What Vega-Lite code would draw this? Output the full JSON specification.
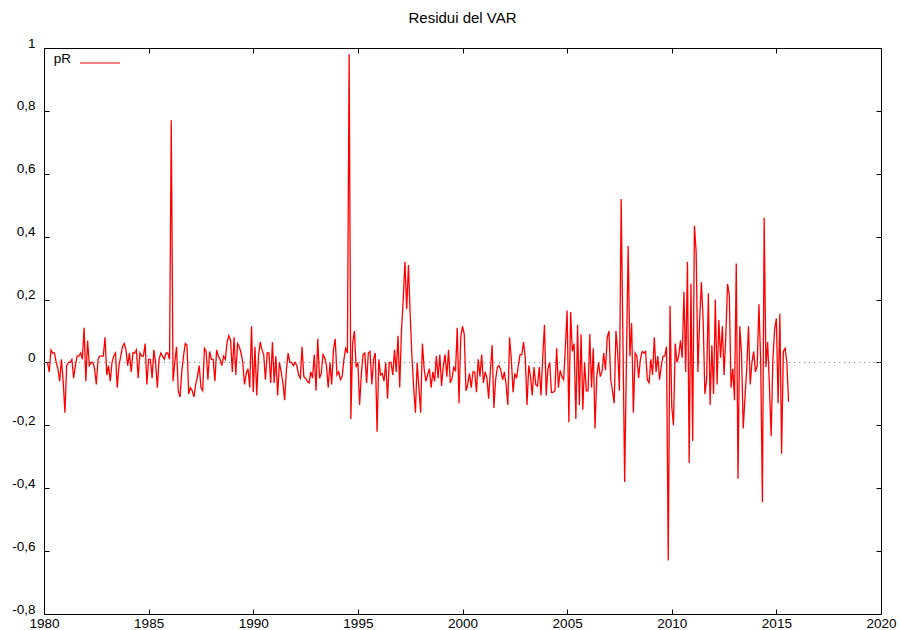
{
"$schema": "https://vega.github.io/schema/vega-lite/v6.json",
"width": 837, "height": 566,
"autosize": {"type": "none"},
"padding": {"left": 44, "top": 48, "right": 19, "bottom": 16},
"background": "white",
"title": {"text": "Residui del VAR", "font": "Liberation Sans", "fontSize": 15, "fontWeight": "normal", "color": "black", "offset": 10},
"config": {
  "view": {"stroke": "black", "strokeWidth": 1},
  "font": "Liberation Sans",
  "axis": {"grid": false, "domain": false, "tickColor": "black", "tickSize": -5, "labelColor": "black", "labelFont": "Liberation Sans", "labelFontSize": 13.5, "title": null}
},
"layer": [
  {
    "data": {"values": [{"a": 1980, "b": 2020, "z": 0}]},
    "mark": {"type": "rule", "stroke": "#888888", "strokeWidth": 1, "strokeDash": [1.2, 3.8]},
    "encoding": {
      "x": {"field": "a", "type": "quantitative", "scale": {"domain": [1980, 2020], "nice": false, "zero": false},
            "axis": {"orient": "top", "labels": false, "values": [1980,1985,1990,1995,2000,2005,2010,2015,2020]}},
      "x2": {"field": "b"},
      "y": {"field": "z", "type": "quantitative", "scale": {"domain": [-0.8, 1], "nice": false, "zero": false},
            "axis": {"orient": "left", "values": [-0.8,-0.6,-0.4,-0.2,0,0.2,0.4,0.6,0.8,1], "labelPadding": 14, "labelOffset": -5,
                     "labelExpr": "(datum.value < 0 ? '-' : '') + replace(format(abs(datum.value), '~g'), '.', ',')"}}
    }
  },
  {
    "data": {"values": [
{"t":1980.167,"v":0},{"t":1980.25,"v":-0.03},{"t":1980.333,"v":0.04},{"t":1980.417,"v":0.03},{"t":1980.5,"v":0.03},{"t":1980.583,"v":0},{"t":1980.667,"v":-0.02},{"t":1980.75,"v":-0.06},{"t":1980.833,"v":0.01},{"t":1980.917,"v":-0.06},
{"t":1981,"v":-0.16},{"t":1981.083,"v":-0.01},{"t":1981.167,"v":0},{"t":1981.25,"v":0},{"t":1981.333,"v":0.01},{"t":1981.417,"v":-0.05},{"t":1981.5,"v":-0.01},{"t":1981.583,"v":0.02},{"t":1981.667,"v":0.02},{"t":1981.75,"v":0.03},{"t":1981.833,"v":0.01},{"t":1981.917,"v":0.11},
{"t":1982,"v":-0.06},{"t":1982.083,"v":0.07},{"t":1982.167,"v":-0.01},{"t":1982.25,"v":0},{"t":1982.333,"v":0},{"t":1982.417,"v":-0.02},{"t":1982.5,"v":-0.07},{"t":1982.583,"v":0.01},{"t":1982.667,"v":0.02},{"t":1982.75,"v":0.02},{"t":1982.833,"v":0.02},{"t":1982.917,"v":0.08},
{"t":1983,"v":-0.04},{"t":1983.083,"v":-0.01},{"t":1983.167,"v":-0.06},{"t":1983.25,"v":0},{"t":1983.333,"v":0.02},{"t":1983.417,"v":0.03},{"t":1983.5,"v":-0.08},{"t":1983.583,"v":-0.01},{"t":1983.667,"v":0.02},{"t":1983.75,"v":0.05},{"t":1983.833,"v":0.06},{"t":1983.917,"v":0.04},
{"t":1984,"v":-0.01},{"t":1984.083,"v":0.03},{"t":1984.167,"v":-0.03},{"t":1984.25,"v":0.03},{"t":1984.333,"v":0.03},{"t":1984.417,"v":0.04},{"t":1984.5,"v":-0.05},{"t":1984.583,"v":0.03},{"t":1984.667,"v":0.02},{"t":1984.75,"v":0.02},{"t":1984.833,"v":0.06},{"t":1984.917,"v":-0.07},
{"t":1985,"v":0.01},{"t":1985.083,"v":0.01},{"t":1985.167,"v":-0.05},{"t":1985.25,"v":0.04},{"t":1985.333,"v":0},{"t":1985.417,"v":-0.08},{"t":1985.5,"v":0.01},{"t":1985.583,"v":0.03},{"t":1985.667,"v":0.02},{"t":1985.75,"v":0.01},{"t":1985.833,"v":0.03},{"t":1985.917,"v":0.03},
{"t":1986,"v":0.01},{"t":1986.083,"v":0.77},{"t":1986.167,"v":-0.06},{"t":1986.25,"v":0},{"t":1986.333,"v":0.05},{"t":1986.417,"v":-0.09},{"t":1986.5,"v":-0.11},{"t":1986.583,"v":-0.03},{"t":1986.667,"v":0.02},{"t":1986.75,"v":0.06},{"t":1986.833,"v":0.055},{"t":1986.917,"v":-0.1},
{"t":1987,"v":-0.08},{"t":1987.083,"v":-0.09},{"t":1987.167,"v":-0.11},{"t":1987.25,"v":-0.07},{"t":1987.333,"v":-0.045},{"t":1987.417,"v":-0.01},{"t":1987.5,"v":-0.08},{"t":1987.583,"v":-0.09},{"t":1987.667,"v":0.045},{"t":1987.75,"v":0.035},{"t":1987.833,"v":-0.055},{"t":1987.917,"v":0.035},
{"t":1988,"v":0.01},{"t":1988.083,"v":0.01},{"t":1988.167,"v":-0.06},{"t":1988.25,"v":0.04},{"t":1988.333,"v":0.02},{"t":1988.417,"v":0.01},{"t":1988.5,"v":-0.01},{"t":1988.583,"v":0.02},{"t":1988.667,"v":0.01},{"t":1988.75,"v":0.065},{"t":1988.833,"v":0.085},{"t":1988.917,"v":0.07},
{"t":1989,"v":-0.03},{"t":1989.083,"v":0.08},{"t":1989.167,"v":-0.04},{"t":1989.25,"v":0.06},{"t":1989.333,"v":0.05},{"t":1989.417,"v":0.03},{"t":1989.5,"v":0},{"t":1989.583,"v":-0.07},{"t":1989.667,"v":-0.035},{"t":1989.75,"v":-0.02},{"t":1989.833,"v":-0.08},{"t":1989.917,"v":0.115},
{"t":1990,"v":-0.095},{"t":1990.083,"v":0.05},{"t":1990.167,"v":-0.105},{"t":1990.25,"v":0.02},{"t":1990.333,"v":0.065},{"t":1990.417,"v":0.04},{"t":1990.5,"v":0.025},{"t":1990.583,"v":-0.055},{"t":1990.667,"v":0.03},{"t":1990.75,"v":0.03},{"t":1990.833,"v":-0.065},{"t":1990.917,"v":0.065},
{"t":1991,"v":-0.065},{"t":1991.083,"v":0.02},{"t":1991.167,"v":-0.105},{"t":1991.25,"v":0},{"t":1991.333,"v":-0.03},{"t":1991.417,"v":-0.065},{"t":1991.5,"v":-0.12},{"t":1991.583,"v":-0.025},{"t":1991.667,"v":0.03},{"t":1991.75,"v":0},{"t":1991.833,"v":0},{"t":1991.917,"v":-0.01},
{"t":1992,"v":0},{"t":1992.083,"v":-0.01},{"t":1992.167,"v":-0.04},{"t":1992.25,"v":-0.05},{"t":1992.333,"v":0.05},{"t":1992.417,"v":-0.045},{"t":1992.5,"v":-0.05},{"t":1992.583,"v":-0.06},{"t":1992.667,"v":-0.065},{"t":1992.75,"v":-0.03},{"t":1992.833,"v":-0.05},{"t":1992.917,"v":0.025},
{"t":1993,"v":-0.09},{"t":1993.083,"v":0.075},{"t":1993.167,"v":-0.05},{"t":1993.25,"v":-0.035},{"t":1993.333,"v":0.025},{"t":1993.417,"v":0.015},{"t":1993.5,"v":-0.01},{"t":1993.583,"v":-0.08},{"t":1993.667,"v":0},{"t":1993.75,"v":-0.07},{"t":1993.833,"v":0.04},{"t":1993.917,"v":0.075},
{"t":1994,"v":-0.04},{"t":1994.083,"v":-0.03},{"t":1994.167,"v":-0.055},{"t":1994.25,"v":-0.045},{"t":1994.333,"v":0.01},{"t":1994.417,"v":0.045},{"t":1994.5,"v":0.03},{"t":1994.583,"v":0.98},{"t":1994.667,"v":-0.18},{"t":1994.75,"v":0.06},{"t":1994.833,"v":0.1},{"t":1994.917,"v":-0.015},
{"t":1995,"v":0},{"t":1995.083,"v":-0.135},{"t":1995.167,"v":-0.035},{"t":1995.25,"v":0.025},{"t":1995.333,"v":0.03},{"t":1995.417,"v":-0.065},{"t":1995.5,"v":0.03},{"t":1995.583,"v":0.035},{"t":1995.667,"v":-0.07},{"t":1995.75,"v":0.01},{"t":1995.833,"v":0.03},{"t":1995.917,"v":-0.22},
{"t":1996,"v":0.01},{"t":1996.083,"v":-0.04},{"t":1996.167,"v":-0.035},{"t":1996.25,"v":-0.06},{"t":1996.333,"v":0},{"t":1996.417,"v":-0.115},{"t":1996.5,"v":0},{"t":1996.583,"v":0},{"t":1996.667,"v":-0.04},{"t":1996.75,"v":0.04},{"t":1996.833,"v":-0.03},{"t":1996.917,"v":0.085},
{"t":1997,"v":-0.08},{"t":1997.083,"v":0.1},{"t":1997.167,"v":0.2},{"t":1997.25,"v":0.32},{"t":1997.333,"v":0.17},{"t":1997.417,"v":0.31},{"t":1997.5,"v":0.15},{"t":1997.583,"v":0.02},{"t":1997.667,"v":-0.08},{"t":1997.75,"v":-0.16},{"t":1997.833,"v":0},{"t":1997.917,"v":-0.08},
{"t":1998,"v":-0.16},{"t":1998.083,"v":0.06},{"t":1998.167,"v":-0.02},{"t":1998.25,"v":-0.06},{"t":1998.333,"v":-0.04},{"t":1998.417,"v":-0.02},{"t":1998.5,"v":-0.08},{"t":1998.583,"v":-0.03},{"t":1998.667,"v":-0.06},{"t":1998.75,"v":0.02},{"t":1998.833,"v":-0.05},{"t":1998.917,"v":0.025},
{"t":1999,"v":-0.075},{"t":1999.083,"v":-0.01},{"t":1999.167,"v":0.025},{"t":1999.25,"v":-0.045},{"t":1999.333,"v":0.04},{"t":1999.417,"v":-0.065},{"t":1999.5,"v":-0.05},{"t":1999.583,"v":-0.015},{"t":1999.667,"v":-0.025},{"t":1999.75,"v":0.11},{"t":1999.833,"v":-0.13},{"t":1999.917,"v":0.08},
{"t":2000,"v":0.115},{"t":2000.083,"v":0.09},{"t":2000.167,"v":-0.09},{"t":2000.25,"v":-0.07},{"t":2000.333,"v":-0.035},{"t":2000.417,"v":-0.08},{"t":2000.5,"v":-0.03},{"t":2000.583,"v":-0.03},{"t":2000.667,"v":-0.095},{"t":2000.75,"v":0.01},{"t":2000.833,"v":-0.045},{"t":2000.917,"v":0.025},
{"t":2001,"v":-0.065},{"t":2001.083,"v":-0.03},{"t":2001.167,"v":-0.05},{"t":2001.25,"v":-0.115},{"t":2001.333,"v":-0.025},{"t":2001.417,"v":0.055},{"t":2001.5,"v":-0.145},{"t":2001.583,"v":-0.055},{"t":2001.667,"v":-0.015},{"t":2001.75,"v":-0.01},{"t":2001.833,"v":-0.025},{"t":2001.917,"v":-0.055},
{"t":2002,"v":-0.03},{"t":2002.083,"v":-0.07},{"t":2002.167,"v":-0.135},{"t":2002.25,"v":0.08},{"t":2002.333,"v":0.01},{"t":2002.417,"v":-0.095},{"t":2002.5,"v":-0.035},{"t":2002.583,"v":-0.05},{"t":2002.667,"v":-0.01},{"t":2002.75,"v":0.025},{"t":2002.833,"v":0.025},{"t":2002.917,"v":0.065},
{"t":2003,"v":0.015},{"t":2003.083,"v":-0.135},{"t":2003.167,"v":-0.01},{"t":2003.25,"v":-0.045},{"t":2003.333,"v":-0.105},{"t":2003.417,"v":-0.015},{"t":2003.5,"v":-0.07},{"t":2003.583,"v":-0.075},{"t":2003.667,"v":-0.015},{"t":2003.75,"v":-0.105},{"t":2003.833,"v":0.015},{"t":2003.917,"v":0.12},
{"t":2004,"v":-0.105},{"t":2004.083,"v":-0.02},{"t":2004.167,"v":0},{"t":2004.25,"v":-0.095},{"t":2004.333,"v":-0.095},{"t":2004.417,"v":-0.09},{"t":2004.5,"v":0.045},{"t":2004.583,"v":-0.08},{"t":2004.667,"v":-0.025},{"t":2004.75,"v":-0.045},{"t":2004.833,"v":-0.055},{"t":2004.917,"v":0.05},
{"t":2005,"v":0.165},{"t":2005.083,"v":-0.19},{"t":2005.167,"v":0.16},{"t":2005.25,"v":0.035},{"t":2005.333,"v":0.06},{"t":2005.417,"v":-0.18},{"t":2005.5,"v":0.12},{"t":2005.583,"v":-0.135},{"t":2005.667,"v":0.09},{"t":2005.75,"v":-0.15},{"t":2005.833,"v":0},{"t":2005.917,"v":-0.09},
{"t":2006,"v":-0.09},{"t":2006.083,"v":0.09},{"t":2006.167,"v":-0.08},{"t":2006.25,"v":0.045},{"t":2006.333,"v":-0.21},{"t":2006.417,"v":-0.045},{"t":2006.5,"v":0},{"t":2006.583,"v":-0.045},{"t":2006.667,"v":-0.03},{"t":2006.75,"v":0.03},{"t":2006.833,"v":-0.025},{"t":2006.917,"v":0.08},
{"t":2007,"v":0.1},{"t":2007.083,"v":-0.055},{"t":2007.167,"v":-0.09},{"t":2007.25,"v":-0.13},{"t":2007.333,"v":0.1},{"t":2007.417,"v":0.03},{"t":2007.5,"v":-0.09},{"t":2007.583,"v":0.52},{"t":2007.667,"v":0.07},{"t":2007.75,"v":-0.38},{"t":2007.833,"v":0},{"t":2007.917,"v":0.37},
{"t":2008,"v":0.02},{"t":2008.083,"v":0.125},{"t":2008.167,"v":-0.16},{"t":2008.25,"v":0.03},{"t":2008.333,"v":0.02},{"t":2008.417,"v":-0.05},{"t":2008.5,"v":0.01},{"t":2008.583,"v":0.035},{"t":2008.667,"v":0.03},{"t":2008.75,"v":0.035},{"t":2008.833,"v":-0.055},{"t":2008.917,"v":-0.065},
{"t":2009,"v":0.01},{"t":2009.083,"v":-0.04},{"t":2009.167,"v":0.08},{"t":2009.25,"v":-0.03},{"t":2009.333,"v":0.02},{"t":2009.417,"v":-0.055},{"t":2009.5,"v":-0.01},{"t":2009.583,"v":0.02},{"t":2009.667,"v":0.02},{"t":2009.75,"v":0.05},{"t":2009.833,"v":-0.63},{"t":2009.917,"v":0.18},
{"t":2010,"v":-0.14},{"t":2010.083,"v":-0.2},{"t":2010.167,"v":0.06},{"t":2010.25,"v":0},{"t":2010.333,"v":0.02},{"t":2010.417,"v":0.07},{"t":2010.5,"v":0.015},{"t":2010.583,"v":0.225},{"t":2010.667,"v":-0.03},{"t":2010.75,"v":0.32},{"t":2010.833,"v":-0.32},{"t":2010.917,"v":0.25},
{"t":2011,"v":-0.25},{"t":2011.083,"v":0.435},{"t":2011.167,"v":0.35},{"t":2011.25,"v":-0.03},{"t":2011.333,"v":0.135},{"t":2011.417,"v":0.255},{"t":2011.5,"v":0.135},{"t":2011.583,"v":-0.1},{"t":2011.667,"v":-0.055},{"t":2011.75,"v":0.22},{"t":2011.833,"v":-0.135},{"t":2011.917,"v":0.055},
{"t":2012,"v":-0.1},{"t":2012.083,"v":0.2},{"t":2012.167,"v":-0.07},{"t":2012.25,"v":0.135},{"t":2012.333,"v":0.015},{"t":2012.417,"v":0.115},{"t":2012.5,"v":-0.04},{"t":2012.583,"v":0.085},{"t":2012.667,"v":0.25},{"t":2012.75,"v":0.215},{"t":2012.833,"v":-0.08},{"t":2012.917,"v":-0.02},
{"t":2013,"v":-0.12},{"t":2013.083,"v":0.315},{"t":2013.167,"v":-0.37},{"t":2013.25,"v":0.115},{"t":2013.333,"v":0.03},{"t":2013.417,"v":-0.21},{"t":2013.5,"v":-0.11},{"t":2013.583,"v":-0.02},{"t":2013.667,"v":0.115},{"t":2013.75,"v":-0.07},{"t":2013.833,"v":0},{"t":2013.917,"v":0.035},
{"t":2014,"v":-0.03},{"t":2014.083,"v":-0.01},{"t":2014.167,"v":0.185},{"t":2014.25,"v":0},{"t":2014.333,"v":-0.445},{"t":2014.417,"v":0.46},{"t":2014.5,"v":-0.015},{"t":2014.583,"v":0.065},{"t":2014.667,"v":-0.075},{"t":2014.75,"v":-0.235},{"t":2014.833,"v":0.01},{"t":2014.917,"v":0.105},
{"t":2015,"v":0.14},{"t":2015.083,"v":-0.13},{"t":2015.167,"v":0.155},{"t":2015.25,"v":-0.29},{"t":2015.333,"v":0.035},{"t":2015.417,"v":0.045},{"t":2015.5,"v":0},{"t":2015.583,"v":-0.125}
    ]},
    "mark": {"type": "line", "strokeWidth": 1.3, "interpolate": "linear"},
    "encoding": {
      "x": {"field": "t", "type": "quantitative", "scale": {"domain": [1980, 2020], "nice": false, "zero": false},
            "axis": {"orient": "bottom", "values": [1980,1985,1990,1995,2000,2005,2010,2015,2020], "format": "d", "labelPadding": 7, "labelFlush": false}},
      "y": {"field": "v", "type": "quantitative", "scale": {"domain": [-0.8, 1], "nice": false, "zero": false},
            "axis": {"orient": "right", "labels": false, "values": [-0.8,-0.6,-0.4,-0.2,0,0.2,0.4,0.6,0.8,1]}},
      "color": {"datum": "pR", "type": "nominal", "scale": {"range": ["#ff0000"]},
                "legend": {"title": null, "orient": "none", "legendX": 35, "legendY": -6, "padding": 0,
                           "symbolType": "stroke", "symbolSize": 1600, "symbolStrokeWidth": 1.2,
                           "labelAlign": "right", "labelBaseline": "alphabetic", "labelOffset": -50, "labelFontSize": 13.5, "labelFont": "Liberation Sans", "labelColor": "black"}}
    }
  }
],
"resolve": {"axis": {"x": "independent", "y": "independent"}}
}
